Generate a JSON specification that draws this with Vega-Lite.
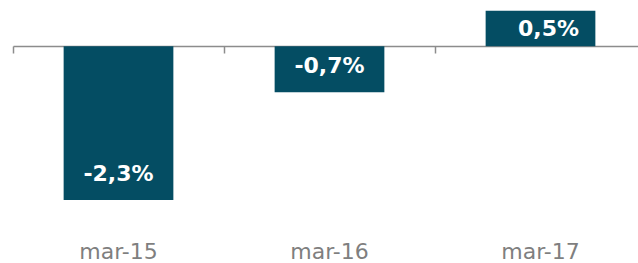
{
  "$schema": "https://vega.github.io/schema/vega-lite/v6.json",
  "width": 633,
  "height": 220,
  "autosize": {"type": "none"},
  "padding": {"left": 13, "top": 0, "right": 0, "bottom": 43},
  "config": {
    "view": {"stroke": null},
    "axis": {"grid": false},
    "locale": {"number": {"decimal": ",", "thousands": ".", "grouping": [3], "currency": ["", " €"], "minus": "-", "percent": "%"}}
  },
  "data": {
    "values": [
      {"fecha": "mar-15", "valor": -0.0230},
      {"fecha": "mar-16", "valor": -0.0069},
      {"fecha": "mar-17", "valor": 0.0053}
    ]
  },
  "layer": [
    {
      "mark": {"type": "bar", "color": "#044D63"},
      "encoding": {
        "x": {
          "field": "fecha", "type": "nominal", "sort": null,
          "scale": {"paddingInner": 0.48, "paddingOuter": 0.24},
          "axis": {"orient": "bottom", "domain": false, "ticks": false, "labelFont": "DejaVu Sans", "labelFontSize": 22, "labelColor": "#7F7F7F", "labelPadding": 21, "labelAngle": 0, "title": null}
        },
        "y": {"field": "valor", "type": "quantitative", "scale": {"domain": [-0.026, 0.0069], "nice": false}, "axis": null}
      }
    },
    {
      "transform": [{"filter": "datum.valor < 0"}],
      "mark": {"type": "text", "color": "white", "font": "DejaVu Sans", "fontWeight": "bold", "fontSize": 22, "baseline": "middle", "dy": -26},
      "encoding": {
        "x": {
          "field": "fecha", "type": "nominal", "sort": null,
          "axis": {"orient": "bottom", "offset": -174, "labels": false, "domain": true, "domainColor": "#8C8C8C", "domainWidth": 1.5, "ticks": true, "tickColor": "#8C8C8C", "tickWidth": 1.5, "tickSize": 7, "bandPosition": -0.4615, "title": null}
        },
        "y": {"field": "valor", "type": "quantitative"},
        "text": {"field": "valor", "type": "quantitative", "format": ".1%"}
      }
    },
    {
      "transform": [{"filter": "datum.valor >= 0"}],
      "mark": {"type": "text", "color": "white", "font": "DejaVu Sans", "fontWeight": "bold", "fontSize": 22, "baseline": "middle", "dy": 18, "dx": 8},
      "encoding": {
        "x": {"field": "fecha", "type": "nominal", "sort": null, "axis": null},
        "y": {"field": "valor", "type": "quantitative"},
        "text": {"field": "valor", "type": "quantitative", "format": ".1%"}
      }
    }
  ],
  "resolve": {"axis": {"x": "independent"}}
}
